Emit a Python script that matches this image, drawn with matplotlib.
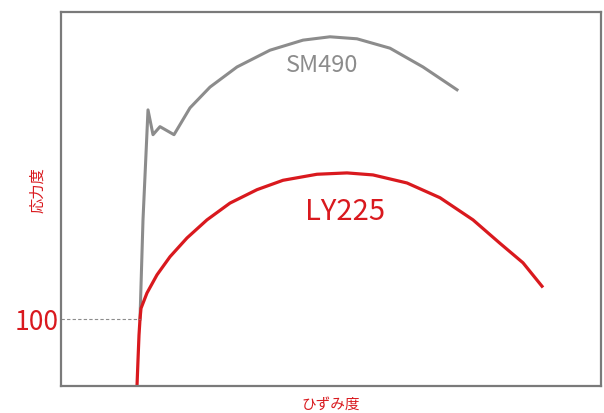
import matplotlib
matplotlib.use("Agg")
import matplotlib.pyplot as plt

plt.rcParams['font.family'] = ['Noto Sans CJK JP', 'DejaVu Sans']

# strain (arbitrary units) and stress (arbitrary units)
ly_x = [7.6, 7.7, 7.8, 7.9, 8.0, 8.6, 9.6, 10.9, 12.6, 14.6, 16.9, 19.6, 22.2,
        25.6, 28.6, 31.2, 34.6, 37.9, 41.2, 43.9, 46.2, 48.1]
ly_y = [0, 39, 76, 100, 116, 139, 166, 193, 221, 248, 273, 293, 307,
        316, 318, 315, 303, 281, 248, 213, 184, 149]

sm_x = [7.9, 8.2, 8.7, 9.2, 9.9, 11.3, 12.9, 14.9, 17.6, 20.9, 24.2, 26.9,
        29.6, 32.9, 36.2, 39.6]
sm_y = [100, 248, 412, 375, 387, 375, 415, 446, 476, 501, 516, 521,
        518, 504, 476, 442]

yield_y = 100
yield_x = 7.9

red = '#d9191e'
gray = '#8c8c8c'

fig = plt.figure(figsize=(6.04, 4.13), dpi=100)
ax = fig.add_axes([0.101, 0.065, 0.894, 0.906])

ax.plot(sm_x, sm_y, color=gray, lw=2.2, solid_joinstyle='round')
ax.plot(ly_x, ly_y, color=red, lw=2.3, solid_joinstyle='round')
ax.plot([0, yield_x], [yield_y, yield_y], color=gray, lw=0.8, ls=(0, (3, 2)))

ax.set_xlim(0, 54)
ax.set_ylim(0, 558)

ax.set_xticks([])
ax.set_yticks([yield_y])
ax.set_yticklabels(['100'], color=red, fontsize=19)
ax.tick_params(axis='y', length=0, pad=2)

for s in ax.spines.values():
    s.set_color('#7a7a7a')
    s.set_linewidth(1.6)

ax.text(28.4, 259, 'LY225', color=red, fontsize=21, ha='center', va='center')
ax.text(26.1, 478, 'SM490', color=gray, fontsize=17, ha='center', va='center')

fig.text(0.063, 0.54, '応力度', color=red, fontsize=11, rotation=90,
         ha='center', va='center')
fig.text(0.548, 0.02, 'ひずみ度', color=red, fontsize=10.5,
         ha='center', va='center')

fig.savefig('out.png', dpi=100)
